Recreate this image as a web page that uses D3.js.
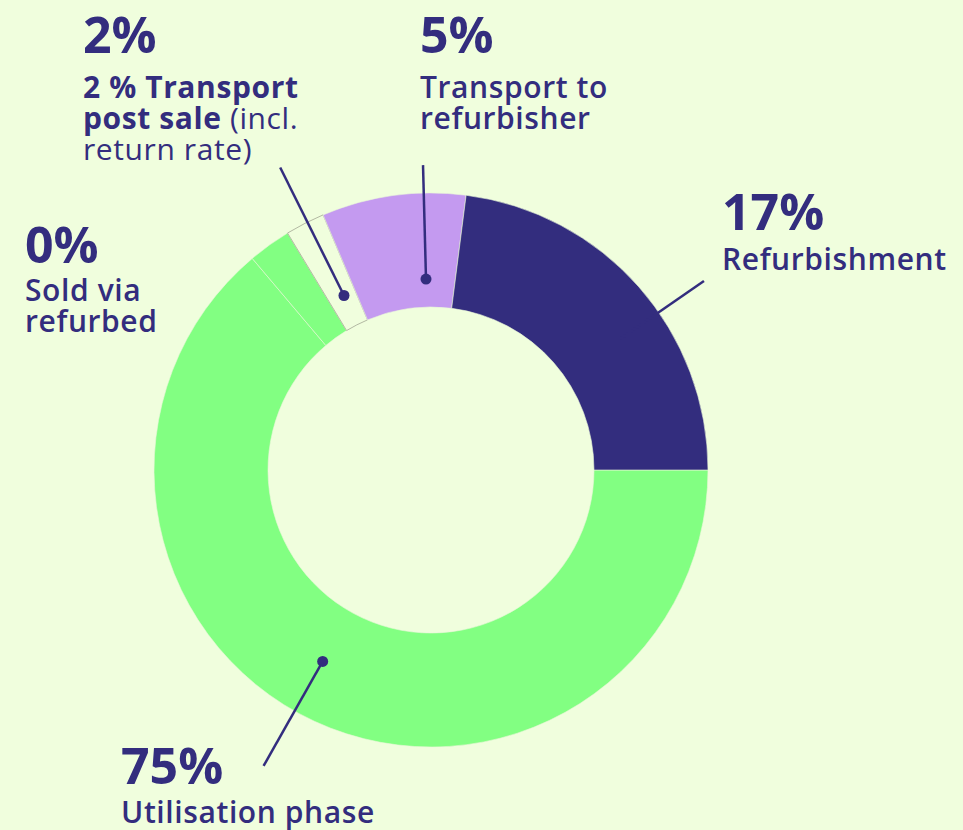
<!DOCTYPE html>
<html>
<head>
<meta charset="utf-8">
<script src="https://d3js.org/d3.v7.min.js"></script>
<style>
  body { margin: 0; background: #f0fedd; }
  svg { display: block; }
  text { font-family: "Open Sans", sans-serif; fill: #332d7e; }
</style>
</head>
<body>
<div id="donut"></div>
<script>
// slice values (clockwise from 3 o'clock)
const categories = ["Utilisation phase", "Sold via refurbed", "Transport post sale", "Transport to refurbisher", "Refurbishment"];
const values = [63.9, 2.5, 2.3, 8.4, 23.0];
const percentLabels = ["75%", "0%", "2%", "5%", "17%"];
const colors = ["#82ff82", "#82ff82", "#f0fedd", "#c49af0", "#332d7e"];

const width = 963,
  height = 830,
  cx = 431,
  cy = 470,
  outerR = 277,
  innerR = 163;

const svg = d3
  .select("#donut")
  .append("svg")
  .attr("width", width)
  .attr("height", height);

const g = svg.append("g").attr("transform", `translate(${cx},${cy})`);

const pie = d3
  .pie()
  .sort(null)
  .value((d) => d)
  .startAngle(Math.PI / 2)
  .endAngle(Math.PI / 2 + 2 * Math.PI);

const arc = d3.arc().innerRadius(innerR).outerRadius(outerR);

const arcs = pie(values);

g.selectAll("path.slice")
  .data(arcs)
  .join("path")
  .attr("class", "slice")
  .attr("d", arc)
  .style("fill", (d, i) => colors[i])
  .style("stroke", (d, i) => (i == 2 ? "#b3b9a3" : "#e9f7d9"))
  .style("stroke-width", (d, i) => (i == 2 ? 1 : 0.6));

// leader lines: angle in degrees, from r0 (dot) to r1
const leaders = [
  { i: 0, angle: 209.5, r0: 220, r1: 340, dot: true },
  { i: 2, angle: -26.5, r0: 195, r1: 338, dot: true },
  { i: 3, angle: -1.5, r0: 191, r1: 305, dot: true },
  { i: 4, angle: 55.3, r0: 230, r1: 332, dot: false },
];

const rad = (a) => (a * Math.PI) / 180;

g.selectAll("line.leader")
  .data(leaders)
  .join("line")
  .attr("class", "leader")
  .attr("x1", (d) => d3.pointRadial(rad(d.angle), d.r0)[0])
  .attr("y1", (d) => d3.pointRadial(rad(d.angle), d.r0)[1])
  .attr("x2", (d) => d3.pointRadial(rad(d.angle), d.r1)[0])
  .attr("y2", (d) => d3.pointRadial(rad(d.angle), d.r1)[1])
  .style("stroke", "#332d7e")
  .style("stroke-width", 2.5);

g.selectAll("circle.dot")
  .data(leaders.filter((d) => d.dot))
  .join("circle")
  .attr("class", "dot")
  .attr("cx", (d) => d3.pointRadial(rad(d.angle), d.r0)[0])
  .attr("cy", (d) => d3.pointRadial(rad(d.angle), d.r0)[1])
  .attr("r", 5.5)
  .style("fill", "#332d7e");

// label blocks: percent line + description lines
const labelPos = [
  { i: 0, x: 121, y: 784, gap: 39, lines: [[["Utilisation phase", 600]]] },
  { i: 1, x: 25, y: 263, gap: 38, lines: [[["Sold via", 600]], [["refurbed", 600]]] },
  {
    i: 2,
    x: 83,
    y: 53,
    gap: 45,
    lines: [[["2 % Transport", 700]], [["post sale ", 700], ["(incl.", 400]], [["return rate)", 400]]],
  },
  { i: 3, x: 420, y: 53, gap: 45, lines: [[["Transport to", 600]], [["refurbisher", 600]]] },
  { i: 4, x: 722, y: 230, gap: 40, lines: [[["Refurbishment", 600]]] },
];

labelPos.forEach(function (p) {
  const t = svg.append("g").attr("transform", `translate(${p.x},${p.y})`);
  t.append("text")
    .attr("x", 0)
    .attr("y", 0)
    .style("font-size", "50px")
    .style("font-weight", 700)
    .text(percentLabels[p.i]);
  p.lines.forEach(function (line, k) {
    const tx = t
      .append("text")
      .attr("x", 0)
      .attr("y", p.gap + k * 31)
      .style("font-size", "30px")
      .style("letter-spacing", "0.6px");
    line.forEach(function (part) {
      tx.append("tspan").style("font-weight", part[1]).text(part[0]);
    });
  });
});
</script>
</body>
</html>
